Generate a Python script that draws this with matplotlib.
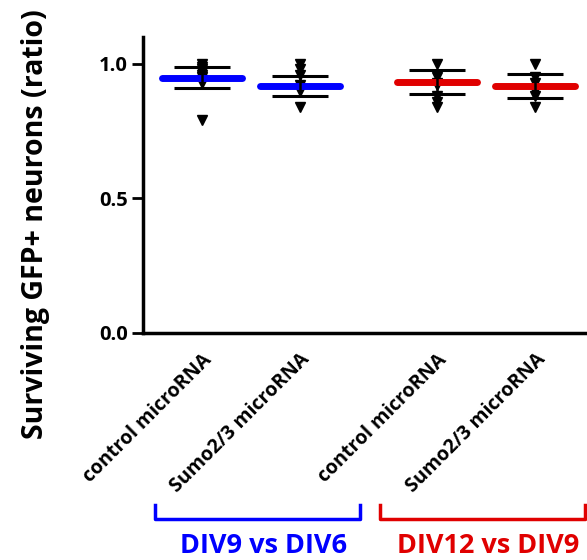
import matplotlib
matplotlib.use("Agg")
import matplotlib.pyplot as plt

plt.rcParams['font.family'] = ['Open Sans', 'DejaVu Sans']
plt.rcParams['font.weight'] = 'bold'

categories = ["control microRNA", "Sumo2/3 microRNA", "control microRNA", "Sumo2/3 microRNA"]
positions = [1.0, 2.0, 3.4, 4.4]
points = [
    [1.00, 0.99, 0.98, 0.97, 0.96, 0.95, 0.94, 0.93, 0.79],
    [1.00, 0.98, 0.96, 0.92, 0.90, 0.84],
    [1.00, 0.95, 0.93, 0.92, 0.88, 0.86, 0.84],
    [1.00, 0.95, 0.93, 0.90, 0.88, 0.84],
]
means = [0.948, 0.917, 0.932, 0.918]
errors = [0.039, 0.037, 0.044, 0.044]
colors = ["#0000FF", "#0000FF", "#E00000", "#E00000"]
groups = ["DIV9 vs DIV6", "DIV12 vs DIV9"]
group_colors = ["#0000FF", "#E00000"]
yticks = [0.0, 0.5, 1.0]

fig = plt.figure(figsize=(5.87, 5.60), dpi=100)
ax = fig.add_axes([143/587, 1 - 333/560, 444/587, 296/560])

for x, pts, m, e, c in zip(positions, points, means, errors, colors):
    ax.plot([x]*len(pts), pts, linestyle='none', marker='v', color='black', ms=7.5, zorder=3)
    ax.plot([x - 0.41, x + 0.41], [m, m], color=c, lw=5, solid_capstyle='round', zorder=4)
    ax.errorbar([x], [m], yerr=[e], color='black', capsize=20, capthick=2.2, elinewidth=1.8, zorder=5)

ax.set_xlim(0.4, 4.93)
ax.set_ylim(0, 1.1)
ax.set_yticks(yticks)
ax.set_yticklabels([f"{v:.1f}" for v in yticks], fontsize=14.5, fontweight='bold')
ax.set_xticks(positions)
ax.set_xticklabels(categories, rotation=45, ha='right', rotation_mode='anchor', fontsize=14, fontweight='bold')
ax.tick_params(axis='x', length=0, pad=12)
ax.tick_params(axis='y', length=8, width=2, pad=3)
for s in ['top', 'right']:
    ax.spines[s].set_visible(False)
for s in ['left', 'bottom']:
    ax.spines[s].set_linewidth(2.5)
fig.text(36/587, 1 - 224/560, "Surviving GFP+ neurons (ratio)", fontsize=20.5, fontweight='bold',
         rotation=90, ha='center', va='center')

# group brackets (figure pixel coords)
brackets = [(155, 360), (380, 585)]
for (x0, x1), g, gc in zip(brackets, groups, group_colors):
    fx0, fx1 = x0/587, x1/587
    yt, yb = 1 - 505/560, 1 - 519/560
    fig.add_artist(plt.Line2D([fx0, fx0, fx1, fx1], [yt, yb, yb, yt], color=gc, lw=2.5, transform=fig.transFigure))
    fig.text((fx0 + fx1)/2 + 0.01, 1 - 546/560, g, color=gc, fontsize=19.5, fontweight='bold', ha='center', va='center')

fig.savefig("out.png", dpi=100)
